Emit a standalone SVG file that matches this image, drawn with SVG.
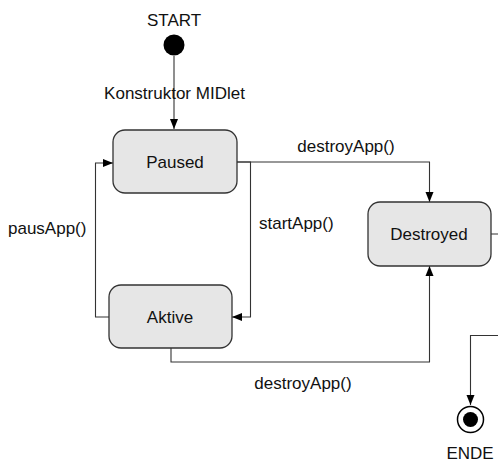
<svg xmlns="http://www.w3.org/2000/svg" width="498" height="463" viewBox="0 0 498 463">
<style>
text{font-family:"Liberation Sans",Arial,sans-serif;font-size:17px;fill:#111}
.m{text-anchor:middle}
.st{fill:#e6e6e6;stroke:#333;stroke-width:1.3}
.c{fill:none;stroke:#333;stroke-width:1.1}
</style>
<defs>
<marker id="a" viewBox="0 0 10 10" refX="10" refY="5" markerWidth="10" markerHeight="10" markerUnits="userSpaceOnUse" orient="auto">
<path d="M0,1 L10,5 L0,9 Z" fill="#000"/>
</marker>
</defs>
<g id="connectors">
<path class="c" d="M174 56 V129" marker-end="url(#a)"/>
<path class="c" d="M237 162 H429.5 V202" marker-end="url(#a)"/>
<path class="c" d="M237 162 H250.5 V317 H232" marker-end="url(#a)"/>
<path class="c" d="M109 317 H95.5 V163 H113" marker-end="url(#a)"/>
<path class="c" d="M171 348 V362 H429.5 V266" marker-end="url(#a)"/>
<path class="c" d="M491 234 H510 V335.5 H470.5 V405" marker-end="url(#a)"/>
</g>
<g id="start">
<circle cx="174" cy="45" r="10.5" fill="#000"/>
<text class="m" x="174" y="26">START</text>
</g>
<text class="m" x="174.5" y="98.5">Konstruktor MIDlet</text>
<g id="paused">
<rect class="st" x="113" y="130" width="124" height="63" rx="12"/>
<text class="m" x="175" y="168">Paused</text>
</g>
<g id="aktive">
<rect class="st" x="109" y="285" width="123" height="63" rx="12"/>
<text class="m" x="170" y="323">Aktive</text>
</g>
<g id="destroyed">
<rect class="st" x="368" y="202" width="123" height="64" rx="12"/>
<text class="m" x="429" y="240">Destroyed</text>
</g>
<g id="ende">
<circle cx="470.5" cy="419.5" r="13" fill="#fff" stroke="#000" stroke-width="1.5"/>
<circle cx="470.5" cy="419.5" r="7.5" fill="#000"/>
<text class="m" x="470" y="459">ENDE</text>
</g>
<text class="m" x="346" y="152">destroyApp()</text>
<text x="259" y="229">startApp()</text>
<text x="8" y="234">pausApp()</text>
<text class="m" x="303" y="389">destroyApp()</text>
</svg>
